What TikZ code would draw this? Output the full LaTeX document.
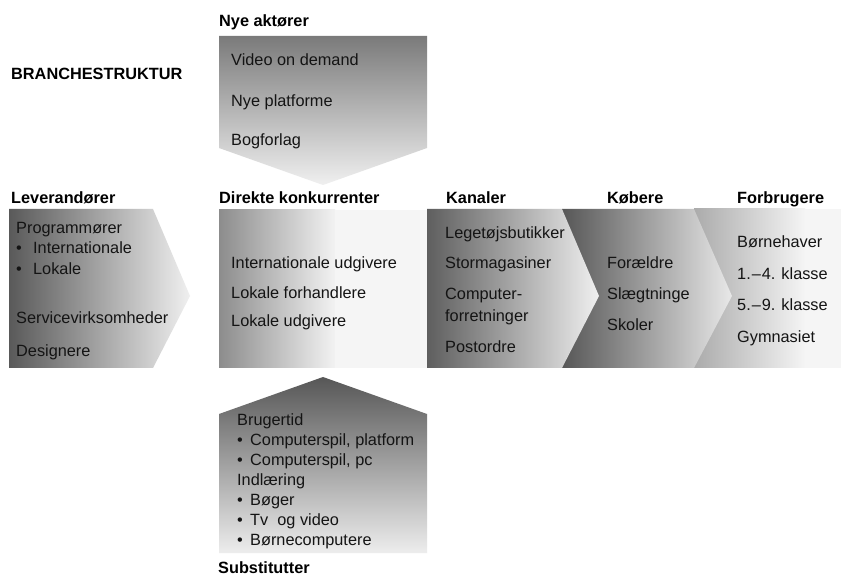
\documentclass[tikz,border=0pt]{standalone}
\usepackage{fontspec}
\setmainfont{Liberation Sans}
\begin{document}
\begin{tikzpicture}[x=1pt,y=-1pt,
  txt/.style={anchor=west, inner sep=0pt, text height=11.6pt, text depth=0pt,
              font=\fontsize{16.3}{19}\selectfont, text=black!92},
  ttl/.style={txt, font=\fontsize{16.3}{19}\selectfont\bfseries, text=black},
  band/.style={draw=none}]
\useasboundingbox (0,0) rectangle (841,577);
\fill[white] (0,0) rectangle (841,577);

% ---------- horizontal value chain ----------
% Forbrugere (rightmost block, drawn first so the chevrons overlap it)
\path[band, left color=black!33, right color=black!4] (694,209) rectangle (805,368);
\path[band, fill=black!4] (805,209) rectangle (841,368);

% Købere chevron
\path[band, left color=black!66, right color=black!9]
  (562,209) -- (694,209) -- (732,296) -- (694,368) -- (562,368) -- cycle;

% Kanaler chevron
\path[band, left color=black!63, right color=black!6]
  (427,209) -- (562,209) -- (599,296) -- (562,368) -- (427,368) -- cycle;

% Direkte konkurrenter block
\path[band, left color=black!45, right color=black!5] (219,210) rectangle (335,368);
\path[band, fill=black!4] (335,210) rectangle (427,368);

% Leverandører chevron
\path[band, left color=black!65, right color=black!6]
  (9,209) -- (153,209) -- (190,296) -- (153,368) -- (9,368) -- cycle;

% ---------- vertical forces ----------
% Nye aktører (pointing down)
\path[band, top color=black!52, bottom color=black!6]
  (219,36) -- (427,36) -- (427,148) -- (323,185) -- (219,148) -- cycle;

% Substitutter (pointing up)
\path[band, top color=black!66, bottom color=black!7]
  (323,377) -- (427,414) -- (427,553) -- (219,553) -- (219,414) -- cycle;

% ---------- headings ----------
\node[ttl] (hBranche) at (11,73.5) {BRANCHESTRUKTUR};
\node[ttl] (hNye)     at (219,21)  {Nye aktører};
\node[ttl] (hLev)     at (11,198)  {Leverandører};
\node[ttl] (hDir)     at (219,198) {Direkte konkurrenter};
\node[ttl] (hKan)     at (446,198) {Kanaler};
\node[ttl] (hKob)     at (607,198) {Købere};
\node[ttl] (hForb)    at (737,198) {Forbrugere};
\node[ttl] (hSub)     at (218,567.5) {Substitutter};

% ---------- Nye aktører ----------
\node[txt] (n1) at (231,60)  {Video on demand};
\node[txt] (n2) at (231,100.5) {Nye platforme};
\node[txt] (n3) at (231,140) {Bogforlag};

% ---------- Leverandører ----------
\node[txt] (l1) at (16,228) {Programmører};
\node[txt] (l2) at (16,248) {\makebox[17pt][l]{•}Internationale};
\node[txt] (l3) at (16,269) {\makebox[17pt][l]{•}Lokale};
\node[txt] (l4) at (16,318) {Servicevirksomheder};
\node[txt] (l5) at (16,351) {Designere};

% ---------- Direkte konkurrenter ----------
\node[txt] (d1) at (231,263) {Internationale udgivere};
\node[txt] (d2) at (231,293) {Lokale forhandlere};
\node[txt] (d3) at (231,321) {Lokale udgivere};

% ---------- Kanaler ----------
\node[txt] (k1) at (445,233) {Legetøjsbutikker};
\node[txt] (k2) at (445,263) {Stormagasiner};
\node[txt] (k3) at (445,294) {Computer-};
\node[txt] (k4) at (445,316) {forretninger};
\node[txt] (k5) at (445,347) {Postordre};

% ---------- Købere ----------
\node[txt] (b1) at (607,263) {Forældre};
\node[txt] (b2) at (607,294) {Slægtninge};
\node[txt] (b3) at (607,325) {Skoler};

% ---------- Forbrugere ----------
\node[txt] (f1) at (737,242) {Børnehaver};
\node[txt] (f2) at (737,274) {1.\kern1pt–\kern1pt4. klasse};
\node[txt] (f3) at (737,305) {5.\kern1pt–\kern1pt9. klasse};
\node[txt] (f4) at (737,337) {Gymnasiet};

% ---------- Substitutter ----------
\node[txt] (s1) at (237,420) {Brugertid};
\node[txt] (s2) at (237,440) {\makebox[13pt][l]{•}Computerspil, platform};
\node[txt] (s3) at (237,460) {\makebox[13pt][l]{•}Computerspil, pc};
\node[txt] (s4) at (237,480) {Indlæring};
\node[txt] (s5) at (237,500) {\makebox[13pt][l]{•}Bøger};
\node[txt] (s6) at (237,520) {\makebox[13pt][l]{•}Tv\ \ og video};
\node[txt] (s7) at (237,540) {\makebox[13pt][l]{•}Børnecomputere};
\end{tikzpicture}
\end{document}
